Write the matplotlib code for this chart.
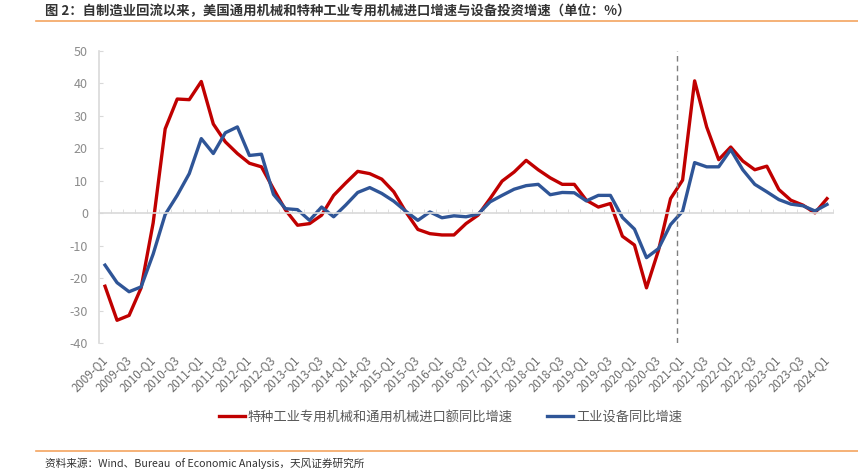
import numpy as np
import matplotlib
matplotlib.use('Agg')
import matplotlib.pyplot as plt

plt.rcParams['font.family'] = ['Noto Sans CJK SC', 'DejaVu Sans']
plt.rcParams['axes.unicode_minus'] = False

# 季度 2009-Q1 ... 2024-Q1
quarters = [f'{y}-Q{q}' for y in range(2009, 2025) for q in range(1, 5)][:61]

# 特种工业专用机械和通用机械进口额同比增速 (%)
imports_yoy = [-22.5, -33.0, -31.5, -23.0, -3.0, 26.0, 35.2, 35.0, 40.6, 27.5,
               22.0, 18.4, 15.4, 14.3, 7.5, 1.0, -3.7, -3.2, -0.6, 5.5,
               9.3, 12.9, 12.2, 10.5, 6.6, 0.4, -5.0, -6.3, -6.7, -6.7,
               -3.2, -0.6, 4.5, 9.9, 12.7, 16.3, 13.4, 10.9, 8.9, 8.9,
               4.0, 1.9, 3.0, -7.1, -9.8, -23.0, -11.4, 4.5, 10.2, 40.8,
               26.6, 16.5, 20.4, 16.1, 13.4, 14.5, 7.3, 4.0, 2.5, 0.1,
               4.5]

# 工业设备同比增速 (%)
equip_yoy = [-16.0, -21.4, -24.2, -22.7, -12.6, -0.4, 5.5, 12.2, 23.0, 18.4,
             24.8, 26.6, 17.8, 18.2, 5.8, 1.4, 1.1, -2.2, 1.9, -1.1,
             2.5, 6.4, 7.9, 6.1, 3.7, 0.6, -2.2, 0.4, -1.4, -0.8,
             -1.1, -0.3, 3.5, 5.5, 7.4, 8.5, 8.9, 5.7, 6.4, 6.3,
             3.8, 5.5, 5.5, -1.3, -4.9, -13.7, -10.9, -3.5, 0.6, 15.6,
             14.3, 14.3, 19.6, 13.4, 8.9, 6.6, 4.2, 2.8, 2.3, 0.7,
             2.7]

title = '图 2：自制造业回流以来，美国通用机械和特种工业专用机械进口增速与设备投资增速（单位：%）'
source = '资料来源：Wind、Bureau  of Economic Analysis，天风证券研究所'

red = '#C00000'
blue = '#2F5597'
grey = '#7F7F7F'
axis_grey = '#D9D9D9'

fig = plt.figure(figsize=(8.58, 4.71), dpi=100)
ax = fig.add_axes([99 / 858, 1 - 343 / 471, (833 - 99) / 858, (343 - 51) / 471])

x = np.arange(len(quarters))
ax.plot(x, imports_yoy, color=red, lw=2.4, label='特种工业专用机械和通用机械进口额同比增速')
ax.plot(x, equip_yoy, color=blue, lw=2.4, label='工业设备同比增速')

# 2021-Q1 分界虚线
ax.axvline(47.5, color=grey, lw=1, ls=(0, (4, 3)))

ax.set_xlim(-0.5, len(quarters) - 0.5)
ax.set_ylim(-40, 50)
ax.set_yticks(range(-40, 51, 10))

# 坐标轴样式
for s in ['right', 'bottom']:
    ax.spines[s].set_visible(False)
ax.spines['left'].set_color(axis_grey)
ax.spines['left'].set_linewidth(1.2)
ax.spines['top'].set_position(('data', 0))
ax.spines['top'].set_color(axis_grey)
ax.spines['top'].set_linewidth(1.2)

ax.set_xticks(x[::2])
ax.set_xticklabels(quarters[::2], rotation=45, ha='right', va='center',
                   rotation_mode='anchor', fontsize=8.3, color='#6E6E6E')
ax.set_xticks(np.arange(-0.5, len(quarters), 1), minor=True)
ax.tick_params(axis='x', which='major', length=0, pad=11, top=False)
ax.tick_params(axis='x', which='minor', top=True, bottom=False, direction='out',
               length=3, color=axis_grey)
ax.tick_params(axis='y', direction='in', length=3, color=axis_grey,
               labelsize=9, labelcolor='#8C8C8C', pad=8)

fig.legend(loc='center', bbox_to_anchor=(0.525, 1 - 417 / 471), ncol=2,
           frameon=False, fontsize=9.5, labelcolor='#595959', handlelength=2.0,
           handletextpad=0.2, columnspacing=2.6)

# 标题与来源
fig.text(45 / 858, 1 - 11 / 471, title, fontsize=9.6, fontweight='bold',
         color='#333333', va='center')
fig.add_artist(plt.Line2D([36 / 858, 1], [1 - 21 / 471] * 2, color='#F4A460', lw=1.2))
fig.add_artist(plt.Line2D([36 / 858, 1], [1 - 451 / 471] * 2, color='#F4A460', lw=1.2))
fig.text(45 / 858, 1 - 463 / 471, source, fontsize=7.7, color='#333333', va='center')

fig.savefig('out.png', dpi=100)
